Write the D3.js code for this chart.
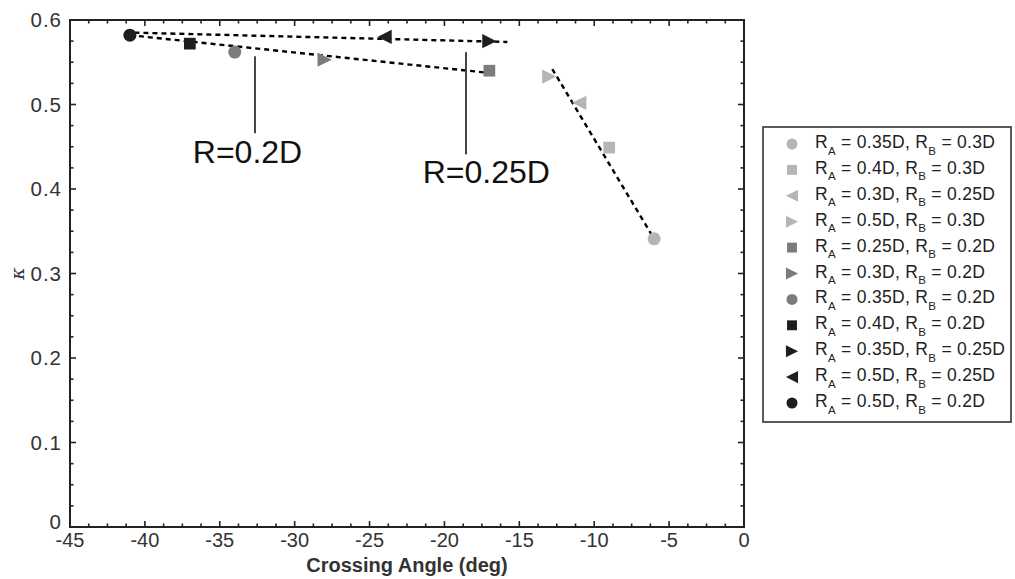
<!DOCTYPE html>
<html><head><meta charset="utf-8">
<script src="https://cdn.jsdelivr.net/npm/d3@7/dist/d3.min.js"></script>
<style>body{margin:0;background:#fff;} svg{display:block;}</style>
</head><body>
<svg id="c" width="1015" height="579"></svg>
<script>
// ---- data ----
const ra = ["0.35D","0.4D","0.3D","0.5D","0.25D","0.3D","0.35D","0.4D","0.35D","0.5D","0.5D"];
const rb = ["0.3D","0.3D","0.25D","0.3D","0.2D","0.2D","0.2D","0.2D","0.25D","0.25D","0.2D"];
const angle = [-6, -9, -11, -13, -17, -28, -34, -37, -17, -24, -41];
const kappa = [0.341, 0.449, 0.502, 0.533, 0.540, 0.553, 0.562, 0.572, 0.575, 0.580, 0.582];
const shapes = ["circle","square","tri-left","tri-right","square","tri-right","circle","square","tri-right","tri-left","circle"];
const shades = ["light","light","light","light","mid","mid","mid","dark","dark","dark","dark"];
const fitX1 = [-41, -40.7, -12.8];
const fitY1 = [0.582, 0.585, 0.542];
const fitX2 = [-16.8, -15.8, -5.9];
const fitY2 = [0.537, 0.574, 0.338];
const annLabels = ["R=0.2D", "R=0.25D"];
const annX = [-32.65, -18.56];
const annTop = [0.557, 0.562];
const annBottom = [0.466, 0.441];
const annTextX = [-36.8, -21.45];
const annTextY = [0.431, 0.407];
const xTicks = [-45,-40,-35,-30,-25,-20,-15,-10,-5,0];
const yTicks = [0,0.1,0.2,0.3,0.4,0.5,0.6];

const colorOf = {light:"#b5b5b5", mid:"#7c7c7c", dark:"#1e1e1e"};

const svg = d3.select("#c");
const L=70, R=744, T=20, B=527;
const x = d3.scaleLinear().domain([-45,0]).range([L,R]);
const y = d3.scaleLinear().domain([0,0.6]).range([B,T]);

function symbolPath(shape, s){
  if(shape==="circle") return d3.symbol().type(d3.symbolCircle).size(Math.PI*s*s/4)();
  if(shape==="square"){const h=s*0.45; return `M${-h},${-h}H${h}V${h}H${-h}Z`;}
  const w=s*0.55, hh=s*0.55;
  if(shape==="tri-right") return `M${-w},${-hh}L${w},0L${-w},${hh}Z`;
  return `M${w},${-hh}L${-w},0L${w},${hh}Z`;
}

// axes frame
const axColor="#222";
svg.append("rect").attr("x",L).attr("y",T).attr("width",R-L).attr("height",B-T)
  .attr("fill","none").attr("stroke",axColor).attr("stroke-width",2);

const xMinor = d3.range(-45,0.001,1.25);
const yMinor = d3.range(0,0.6001,0.025);
const g = svg.append("g").attr("stroke",axColor).attr("stroke-width",1.6);
xMinor.forEach(v=>{
  const major = Math.abs(v/5-Math.round(v/5))<1e-6;
  const len = major?6:3.5;
  g.append("line").attr("x1",x(v)).attr("x2",x(v)).attr("y1",B).attr("y2",B-len);
  g.append("line").attr("x1",x(v)).attr("x2",x(v)).attr("y1",T).attr("y2",T+len);
});
yMinor.forEach(v=>{
  const major = Math.abs(v/0.1-Math.round(v/0.1))<1e-6;
  const len = major?6:3.5;
  g.append("line").attr("y1",y(v)).attr("y2",y(v)).attr("x1",L).attr("x2",L+len);
  g.append("line").attr("y1",y(v)).attr("y2",y(v)).attr("x1",R).attr("x2",R-len);
});

const font = "Liberation Sans, Arial, Helvetica, sans-serif";
svg.append("g").selectAll("text").data(xTicks).join("text")
  .attr("x",d=>x(d)).attr("y",B+20).attr("text-anchor","middle")
  .attr("font-family",font).attr("font-size",20).attr("fill","#333")
  .text(d=>d);
svg.append("g").selectAll("text").data(yTicks).join("text")
  .attr("x",L-8).attr("y",d=>y(d)+(d===0?2:7)).attr("text-anchor","end")
  .attr("font-family",font).attr("font-size",20.5).attr("letter-spacing",1).attr("fill","#333")
  .text(d=>d===0?"0":d.toFixed(1));

svg.append("text").attr("x",(L+R)/2).attr("y",B+45).attr("text-anchor","middle")
  .attr("font-family",font).attr("font-weight","bold").attr("font-size",20).attr("fill","#333")
  .text("Crossing Angle (deg)");
svg.append("text").attr("transform",`translate(24,${y(0.3)}) rotate(-90)`).attr("text-anchor","middle")
  .attr("font-family","DejaVu Serif, serif").attr("font-style","italic").attr("font-size",19).attr("fill","#333")
  .text("κ");

// fit lines
svg.append("g").selectAll("line").data(fitX1).join("line")
  .attr("x1",(d,i)=>x(fitX1[i])).attr("y1",(d,i)=>y(fitY1[i]))
  .attr("x2",(d,i)=>x(fitX2[i])).attr("y2",(d,i)=>y(fitY2[i]))
  .attr("stroke","#000").attr("stroke-width",2.4).attr("stroke-dasharray","5,4");

// annotations
svg.append("g").selectAll("line").data(annX).join("line")
  .attr("x1",d=>x(d)).attr("x2",d=>x(d))
  .attr("y1",(d,i)=>y(annTop[i])).attr("y2",(d,i)=>y(annBottom[i]))
  .attr("stroke","#444").attr("stroke-width",2);
svg.append("g").selectAll("text").data(annLabels).join("text")
  .attr("x",(d,i)=>x(annTextX[i])).attr("y",(d,i)=>y(annTextY[i]))
  .attr("font-family",font).attr("font-size",32).attr("fill","#111")
  .text(d=>d);

// points
svg.append("g").selectAll("path").data(angle).join("path")
  .attr("transform",(d,i)=>`translate(${x(angle[i])},${y(kappa[i])})`)
  .attr("d",(d,i)=>symbolPath(shapes[i],13))
  .attr("fill",(d,i)=>colorOf[shades[i]]);

// legend
const lg = svg.append("g");
lg.append("rect").attr("x",763).attr("y",127).attr("width",248).attr("height",295)
  .attr("fill","#fff").attr("stroke","#333").attr("stroke-width",1.6);
ra.forEach((a,i)=>{
  const cy = 144 + i*25.9;
  lg.append("path").attr("transform",`translate(792,${cy})`)
    .attr("d",symbolPath(shapes[i],11)).attr("fill",colorOf[shades[i]]);
  const t = lg.append("text").attr("x",815).attr("y",cy+4)
    .attr("font-family",font).attr("font-size",17.5).attr("letter-spacing",0.3).attr("fill","#222");
  t.append("tspan").text("R");
  t.append("tspan").attr("dy",6.5).attr("font-size",11.5).text("A");
  t.append("tspan").attr("dy",-6.5).text(" = "+a+", R");
  t.append("tspan").attr("dy",6.5).attr("font-size",11.5).text("B");
  t.append("tspan").attr("dy",-6.5).text(" = "+rb[i]);
});
</script>
</body></html>
